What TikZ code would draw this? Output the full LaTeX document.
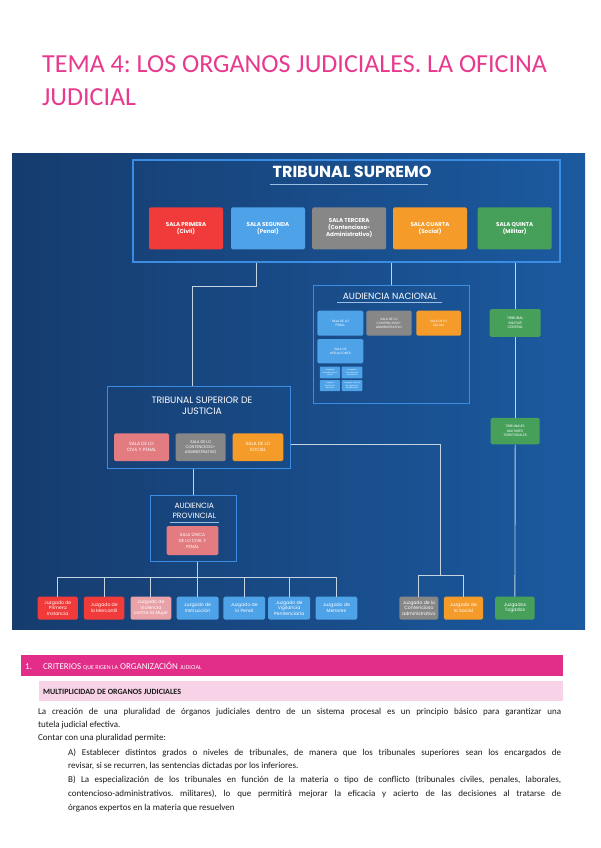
\documentclass[tikz,border=0pt]{standalone}
\usepackage{fontspec}
\setmainfont{Carlito}
\newfontfamily\diag{Poppins}
\newcommand\myfs[2]{\fontsize{#1}{#2}\selectfont}
\frenchspacing
\definecolor{tpink}{HTML}{E8398E}
\definecolor{band}{HTML}{E22D89}
\definecolor{lband}{HTML}{F8D3E7}
\definecolor{panA}{HTML}{163C6E}
\definecolor{panB}{HTML}{1B5AA0}
\definecolor{bline}{HTML}{3B8DE3}
\definecolor{cline}{HTML}{C5D3E3}
\definecolor{cred}{HTML}{F13A3A}
\definecolor{cblue}{HTML}{4EA2E8}
\definecolor{cgray}{HTML}{878787}
\definecolor{corange}{HTML}{F49B2A}
\definecolor{cgreen}{HTML}{46A05A}
\definecolor{csalmon}{HTML}{E27C80}
\definecolor{cpinkl}{HTML}{E9A2A8}
\definecolor{txt}{HTML}{1A1A1A}
\begin{document}
\begin{tikzpicture}[x=1pt,y=-1pt,
  outbox/.style={draw=bline, line width=1.1pt, inner sep=0pt},
  sala/.style={rounded corners=1.5pt, inner sep=0pt, align=center, text=white},
  conn/.style={draw=cline, line width=0.9pt},
  dtitle/.style={text=white, align=center, inner sep=0pt},
  uline/.style={draw=cline!70!bline, line width=0.7pt},
  bodyline/.style={anchor=base west, inner sep=0pt, text=txt, font=\myfs{9}{11}}
]
\useasboundingbox (0,0) rectangle (600,848);
\fill[white] (0,0) rectangle (600,848);

% title
\node[anchor=base west, inner sep=0pt, text=tpink, font=\myfs{26}{30}] (title1) at (42,73) {TEMA 4: LOS ORGANOS JUDICIALES. LA OFICINA};
\node[anchor=base west, inner sep=0pt, text=tpink, font=\myfs{26}{30}] (title2) at (42,106) {JUDICIAL};

% panel
\shade[left color=panA, right color=panB] (12,153) rectangle (585,629);

% outline boxes
\node[outbox, minimum width=427pt, minimum height=102pt] (ts) at (346.5,211) {};
\node[outbox, minimum width=155.6pt, minimum height=117.6pt] (an) at (391.5,344.5) {};
\node[outbox, minimum width=183.3pt, minimum height=82.2pt] (tsj) at (199,427.6) {};
\node[outbox, minimum width=86pt, minimum height=65.8pt] (ap) at (193.7,528.6) {};

% titles
\node[dtitle, font=\diag\bfseries\myfs{16}{18}] (tstitle) at (352,172.3) {TRIBUNAL SUPREMO};
\draw[uline] (270,184) -- (428,184);
\node[dtitle, font=\diag\myfs{9}{10}] (antitle) at (390,296) {AUDIENCIA NACIONAL};
\draw[uline] (337,302.7) -- (442,302.7);
\node[dtitle, font=\diag\myfs{9.3}{11.2}] (tsjtitle) at (202,405.5) {TRIBUNAL SUPERIOR DE\\JUSTICIA};
\node[dtitle, font=\diag\myfs{7.6}{10}] (aptitle) at (194.3,511.2) {AUDIENCIA\\PROVINCIAL};
\draw[uline] (170,522.3) -- (219,522.3);

% Tribunal Supremo salas
\begin{scope}[every node/.append style={font=\diag\bfseries\myfs{5.6}{7}}]
\node[sala, fill=cred, minimum width=74pt, minimum height=42pt] (s1) at (186,228.4) {SALA PRIMERA\\(Civil)};
\node[sala, fill=cblue, minimum width=74pt, minimum height=42pt] (s2) at (268,228.4) {SALA SEGUNDA\\(Penal)};
\node[sala, fill=cgray, minimum width=74pt, minimum height=42pt] (s3) at (349.2,228.4) {SALA TERCERA\\(Contencioso-\\Administrativo)};
\node[sala, fill=corange, minimum width=74pt, minimum height=42pt] (s4) at (430,228.4) {SALA CUARTA\\(Social)};
\node[sala, fill=cgreen, minimum width=74pt, minimum height=42pt] (s5) at (514.7,228.4) {SALA QUINTA\\(Militar)};
\end{scope}

% Audiencia Nacional salas
\begin{scope}[every node/.append style={font=\diag\myfs{3.2}{4}}]
\node[sala, fill=cblue, minimum width=46pt, minimum height=25pt] (anp) at (340.3,323.2) {SALA DE LO\\PENAL};
\node[sala, fill=cgray, minimum width=45.4pt, minimum height=25pt] (anc) at (389,323.2) {SALA DE LO\\CONTENCIOSO-\\ADMINISTRATIVO};
\node[sala, fill=corange, minimum width=44.7pt, minimum height=25pt] (ans) at (438.7,323.2) {SALA DE LO\\SOCIAL};
\node[sala, fill=cblue, minimum width=46pt, minimum height=24.3pt] (ana) at (340.3,351.2) {SALA DE\\APELACIONES};
\end{scope}
\begin{scope}[every node/.append style={font=\diag\myfs{1.9}{2.5}}]
\node[sala, rounded corners=0.8pt, fill=cblue, minimum width=20.3pt, minimum height=11.6pt] (jc1) at (329.9,372.5) {Juzgados\\Centrales de lo\\Penal};
\node[sala, rounded corners=0.8pt, fill=cblue, minimum width=20.6pt, minimum height=11.6pt] (jc2) at (352,372.5) {Juzgados\\Centrales de\\Instrucción};
\node[sala, rounded corners=0.8pt, fill=cblue, minimum width=20.3pt, minimum height=11pt] (jc3) at (329.9,385.5) {Juzgado\\Central de\\Menores};
\node[sala, rounded corners=0.8pt, fill=cblue, minimum width=20.6pt, minimum height=11pt] (jc4) at (352,385.5) {Juzgado Central\\de Vigilancia\\Penitenciaria};
\end{scope}

% military
\node[sala, fill=cgreen, font=\diag\myfs{3.6}{4.6}, minimum width=51pt, minimum height=27.7pt] (tmc) at (515.2,322.9) {TRIBUNAL\\MILITAR\\CENTRAL};
\node[sala, fill=cgreen, font=\diag\myfs{3.4}{4.4}, minimum width=49pt, minimum height=26.5pt] (tmt) at (515.2,431.2) {TRIBUNALES\\MILITARES\\TERRITORIALES};

% TSJ salas
\begin{scope}[every node/.append style={font=\diag\myfs{4.6}{5.8}}]
\node[sala, fill=csalmon, minimum width=55pt, minimum height=27.7pt] (tsj1) at (141.5,447.2) {SALA DE LO\\CIVIL Y PENAL};
\node[sala, fill=cgray, minimum width=50pt, minimum height=27.7pt, font=\diag\myfs{3.9}{5}] (tsj2) at (200.7,447.2) {SALA DE LO\\CONTENCIOSO-\\ADMINISTRATIVO};
\node[sala, fill=corange, minimum width=50.6pt, minimum height=27.7pt] (tsj3) at (258,447.2) {SALA DE LO\\SOCIAL};
\end{scope}

% AP sala
\node[sala, fill=csalmon, font=\diag\myfs{4.4}{5.8}, minimum width=51.6pt, minimum height=29pt] (aps) at (192.5,540.5) {SALA ÚNICA\\DE LO CIVIL Y\\PENAL};

% bottom juzgados
\begin{scope}[every node/.append style={font=\diag\myfs{4.6}{5.6}, minimum height=22.8pt}]
\node[sala, fill=cred, minimum width=40.2pt] (j1) at (57.8,608.1) {Juzgado de\\Primera\\Instancia};
\node[sala, fill=cred, minimum width=40.5pt] (j2) at (104.2,608.1) {Juzgado de\\lo Mercantil};
\node[sala, fill=cpinkl, minimum width=40.8pt] (j3) at (150.9,608.1) {Juzgado de\\Violencia\\contra la Mujer};
\node[sala, fill=cblue, minimum width=41.8pt] (j4) at (197.6,608.1) {Juzgado de\\Instrucción};
\node[sala, fill=cblue, minimum width=41.7pt] (j5) at (244.2,608.1) {Juzgado de\\lo Penal};
\node[sala, fill=cblue, minimum width=41.8pt] (j6) at (289.1,608.1) {Juzgado de\\Vigilancia\\Penitenciaria};
\node[sala, fill=cblue, minimum width=41.8pt] (j7) at (336.4,608.1) {Juzgado de\\Menores};
\node[sala, fill=cgray, minimum width=39pt] (jca) at (418.9,608.1) {Juzgado de lo\\Contencioso\\administrativo};
\node[sala, fill=corange, minimum width=39.2pt] (jso) at (463.4,608.1) {Juzgado de\\lo Social};
\node[sala, fill=cgreen, minimum width=39.5pt] (tog) at (514.9,608.1) {Juzgados\\Togados};
\end{scope}

% connectors
\coordinate (k1) at (256.3,286);
\coordinate (k2) at (192.6,286);
\draw[conn] (k1 |- ts.south) -- (k1) -- (k2) -- (k2 |- tsj.north);
\draw[conn] (an.north |- ts.south) -- (an.north);
\draw[conn] (tmc.north |- ts.south) -- (tmc.north);
\draw[conn] (tmc.south) -- (tmt.north);
\draw[conn] (tmt.south) -- (tog.north);
\draw[conn] (ap.north |- tsj.south) -- (ap.north);
\coordinate (k4) at (440.4,444.3);
\coordinate (bus2) at (440.4,575);
\draw[conn] (tsj.east |- k4) -- (k4) -- (bus2);
\draw[conn] (jca.north |- bus2) -- (jso.north |- bus2);
\draw[conn] (jca.north |- bus2) -- (jca.north);
\draw[conn] (jso.north |- bus2) -- (jso.north);
\coordinate (bus1) at (0,577.3);
\draw[conn] (j4.north |- ap.south) -- (j4.north);
\draw[conn] (j1.north |- bus1) -- (j7.north |- bus1);
\foreach \j in {j1,j2,j3,j5,j6,j7} \draw[conn] (\j.north |- bus1) -- (\j.north);

% section header
\fill[band] (21,655) rectangle (563,676);
\node[anchor=base west, inner sep=0pt, text=white, font=\myfs{9}{10}] (num) at (25,669) {1.};
\node[anchor=base west, inner sep=0pt, text=white, font=\myfs{9}{10}] (crit) at (43,669) {CRITERIOS {\myfs{6}{7}QUE RIGEN LA} ORGANIZACIÓN {\myfs{6}{7}JUDICIAL}};
\fill[lband] (39,681) rectangle (563,701);
\node[anchor=base west, inner sep=0pt, text=txt, font=\bfseries\myfs{8}{9}] (multi) at (43,694) {MULTIPLICIDAD DE ORGANOS JUDICIALES};

% body
\node[bodyline] (b1) at (38,714) {\makebox[523pt][s]{La creación de una pluralidad de órganos judiciales dentro de un sistema procesal es un principio básico para garantizar una}};
\node[bodyline] (b2) at (38,727) {tutela judicial efectiva.};
\node[bodyline] (b3) at (38,740) {Contar con una pluralidad permite:};
\node[bodyline] (b4) at (68,755) {\makebox[493pt][s]{A) Establecer distintos grados o niveles de tribunales, de manera que los tribunales superiores sean los encargados de}};
\node[bodyline] (b5) at (68,768) {revisar, si se recurren, las sentencias dictadas por los inferiores.};
\node[bodyline] (b6) at (68,782) {\makebox[493pt][s]{B) La especialización de los tribunales en función de la materia o tipo de conflicto (tribunales civiles, penales, laborales,}};
\node[bodyline] (b7) at (68,796) {\makebox[493pt][s]{contencioso-administrativos. militares), lo que permitirá mejorar la eficacia y acierto de las decisiones al tratarse de}};
\node[bodyline] (b8) at (68,810) {órganos expertos en la materia que resuelven};
\end{tikzpicture}
\end{document}
